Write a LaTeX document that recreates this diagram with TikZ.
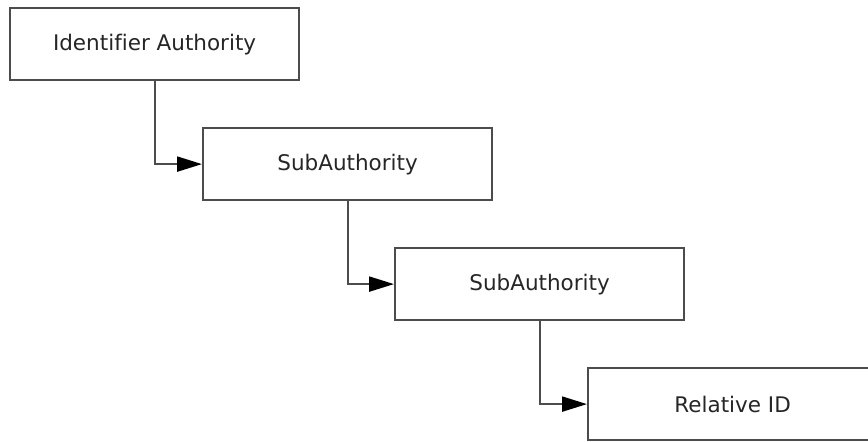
\documentclass[tikz,border=0pt]{standalone}
\usepackage{fontspec}
\setmainfont[RawFeature=-liga]{DejaVu Sans}
\usetikzlibrary{arrows.meta}
\tikzset{
  blk/.style={draw=black!70, line width=2.2pt, minimum width=289pt, minimum height=72pt,
    inner sep=0pt, fill=white, text=black!85, font=\fontsize{21.5pt}{25pt}\selectfont, anchor=north west},
  lnk/.style={draw=black!70, line width=2.2pt, -{Triangle[length=25pt,width=15pt,fill=black,color=black]}}
}
\begin{document}
\begin{tikzpicture}[x=1pt,y=-1pt]
\useasboundingbox (0,0) rectangle (868,442);
\clip (0,0) rectangle (868,442);
\node[blk] (a) at (9,7) {Identifier Authority};
\node[blk] (b) at (202,127) {SubAuthority};
\node[blk] (c) at (394,247) {SubAuthority};
\node[blk] (d) at (587,367) {Relative ID};
\draw[lnk] (a.south) |- (b.west);
\draw[lnk] (b.south) |- (c.west);
\draw[lnk] (c.south) |- (d.west);
\end{tikzpicture}
\end{document}
